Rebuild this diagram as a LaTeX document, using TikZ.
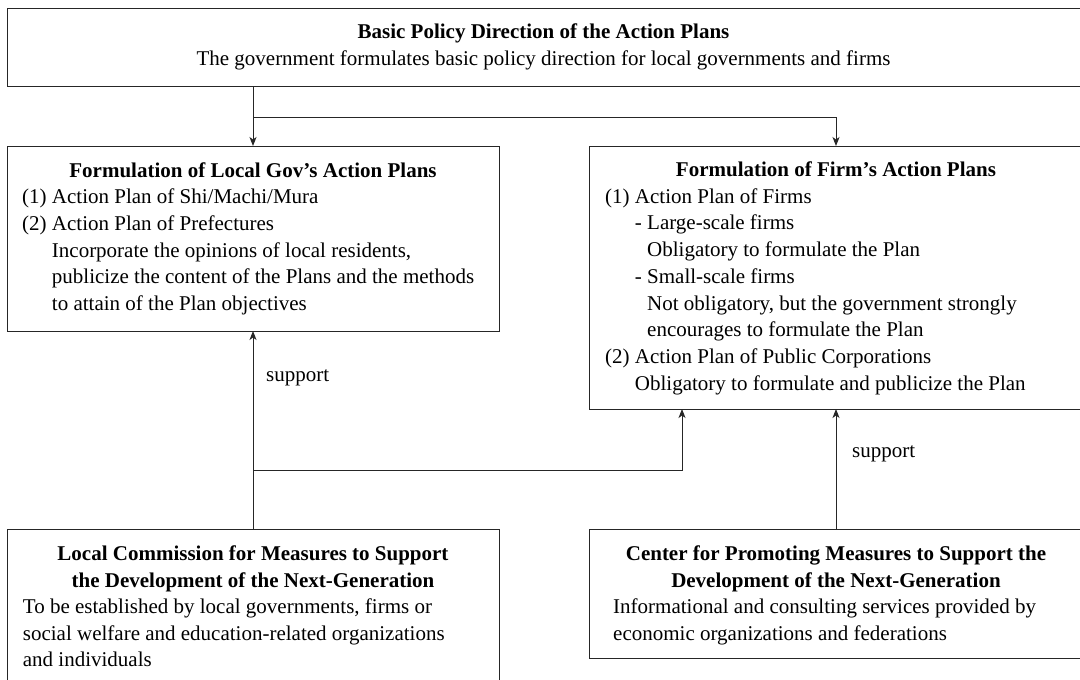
\documentclass[tikz,border=0pt]{standalone}
\usepackage{fontspec}
\setmainfont{Liberation Serif}
\usetikzlibrary{arrows.meta}
\begin{document}
\begin{tikzpicture}[x=1pt,y=-1pt,
  box/.style={draw=black!85,line width=1pt,anchor=north west,inner sep=0pt,outer sep=0pt},
  conn/.style={draw=black!85,line width=1pt},
  arr/.style={conn,-{Stealth[length=9pt,width=7pt,inset=2.5pt]}},
  ttl/.style={font=\fontsize{21}{26.7}\selectfont\bfseries,align=center,inner sep=0pt,anchor=base},
  body/.style={font=\fontsize{21}{26.7}\selectfont,align=left,inner sep=0pt,anchor=base west},
  lbl/.style={font=\fontsize{21}{26.7}\selectfont,inner sep=0pt,anchor=base west}]
\useasboundingbox (0,0) rectangle (1080,680);
\clip (0,0) rectangle (1080,680);
\fill[white] (0,0) rectangle (1080,680);
% boxes
\node[box,minimum width=1076pt,minimum height=78pt] (top) at (7,8) {};
\node[box,minimum width=492pt,minimum height=185pt] (gov) at (7,146) {};
\node[box,minimum width=494pt,minimum height=263pt] (firm) at (589,146) {};
\node[box,minimum width=492pt,minimum height=170pt] (lc) at (7,529) {};
\node[box,minimum width=494pt,minimum height=129pt] (ctr) at (589,529) {};
% texts (multi-line nodes are placed at the baseline of their last line)
\node[ttl] (toptitle) at (543.5,38.5) {Basic Policy Direction of the Action Plans};
\node[body,anchor=base] (topbody) at (543.5,65.5) {The government formulates basic policy direction for local governments and firms};
\node[ttl] (govtitle) at (253,177) {Formulation of Local Gov’s Action Plans};
\node[body] (govbody) at (22,310.5) {(1) Action Plan of Shi/Machi/Mura\\
(2) Action Plan of Prefectures\\
\phantom{(2)~}Incorporate the opinions of local residents,\\
\phantom{(2)~}publicize the content of the Plans and the methods\\
\phantom{(2)~}to attain of the Plan objectives};
\node[ttl] (firmtitle) at (836,176.5) {Formulation of Firm’s Action Plans};
\node[body] (firmbody) at (605,390.1) {(1) Action Plan of Firms\\
\phantom{(1)~}-~Large-scale firms\\
\phantom{(1)~-~}Obligatory to formulate the Plan\\
\phantom{(1)~}-~Small-scale firms\\
\phantom{(1)~-~}Not obligatory, but the government strongly\\
\phantom{(1)~-~}encourages to formulate the Plan\\
(2) Action Plan of Public Corporations\\
\phantom{(2)~}Obligatory to formulate and publicize the Plan};
\node[ttl] (lctitle) at (253,587.2) {Local Commission for Measures to Support\\the Development of the Next-Generation};
\node[body] (lcbody) at (22.7,666.9) {To be established by local governments, firms or\\
social welfare and education-related organizations\\
and individuals};
\node[ttl] (ctrtitle) at (836,587.2) {Center for Promoting Measures to Support the\\Development of the Next-Generation};
\node[body] (ctrbody) at (613,640.2) {Informational and consulting services provided by\\
economic organizations and federations};
% connectors
\coordinate (j1) at (253,117);
\draw[conn] (top.south -| gov.north) -- (j1);
\draw[arr] (j1) -- (gov.north);
\draw[arr] (j1) -| (firm.north);
\coordinate (j2) at (253,470);
\coordinate (fa) at (682,409);
\draw[arr] (lc.north) -- (gov.south);
\draw[arr] (j2) -| (fa);
\draw[arr] (ctr.north) -- (firm.south);
\node[lbl] (sup1) at (266,381) {support};
\node[lbl] (sup2) at (852,457) {support};
\end{tikzpicture}
\end{document}
